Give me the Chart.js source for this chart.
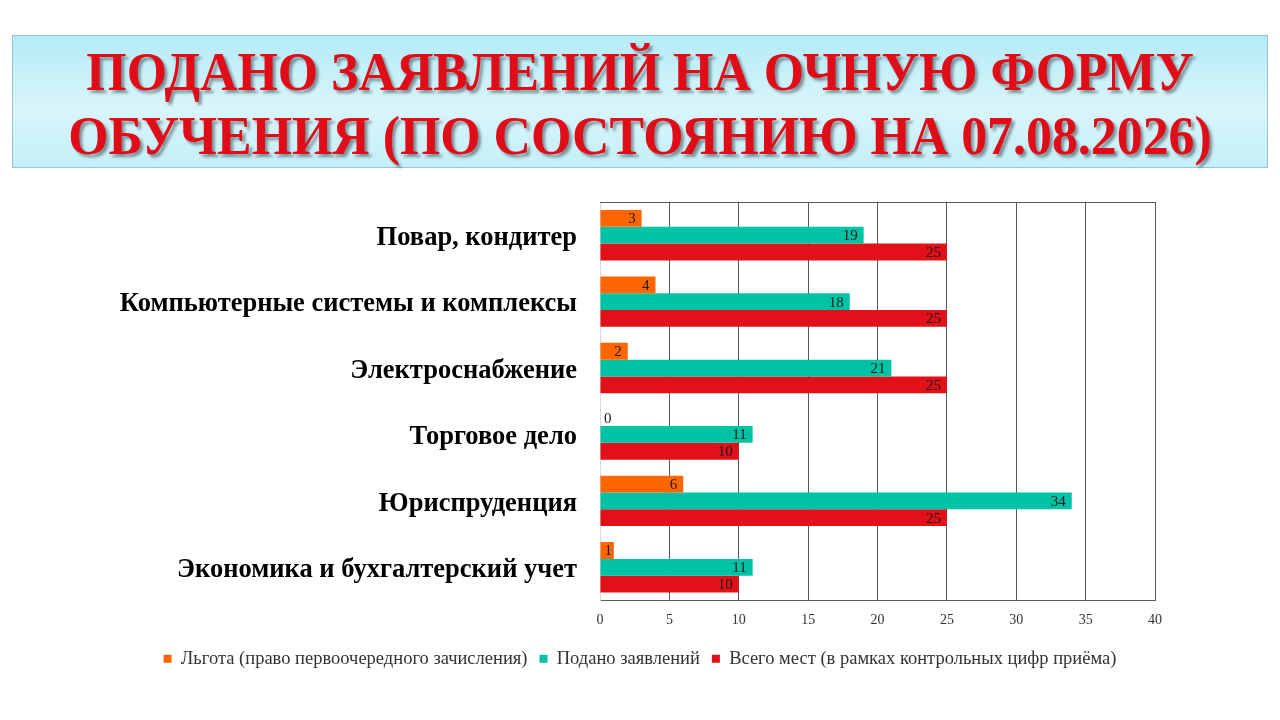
<!DOCTYPE html>
<html>
<head>
<meta charset="utf-8">
<script src="https://cdn.jsdelivr.net/npm/chart.js@4.4.1/dist/chart.umd.min.js"></script>
<style>
  html, body { margin:0; padding:0; background:#fff; width:1280px; height:720px; overflow:hidden; }
  #titleBox {
    position:absolute; left:12px; top:35px; width:1256px; height:133px; box-sizing:border-box;
    border:1px solid #9cc3d5;
    background: linear-gradient(to bottom, #b4ebf7 0%, #d9f5fb 55%, #c4eff9 100%);
    padding-top:4px;
  }
  .tl { position:relative; height:64px; line-height:64px; white-space:nowrap; }
  .tl span {
    position:absolute; left:50%; top:0;
    font-family:"Liberation Serif","Times New Roman",serif; font-weight:bold;
    font-size:54px; color:#e00c17; text-shadow:3px 3px 3px rgba(0,0,0,0.4);
    transform:translateX(-50%) scaleX(0.96);
  }
  #wrap { position:absolute; left:0; top:180px; width:1280px; height:500px; }
</style>
</head>
<body>
<div id="titleBox">
  <div class="tl"><span>ПОДАНО ЗАЯВЛЕНИЙ НА ОЧНУЮ ФОРМУ</span></div>
  <div class="tl"><span>ОБУЧЕНИЯ (ПО СОСТОЯНИЮ НА 07.08.2026)</span></div>
</div>
<div id="wrap"><canvas id="c" width="1280" height="500"></canvas></div>
<script>
const categories = [
  "Повар, кондитер",
  "Компьютерные системы и комплексы",
  "Электроснабжение",
  "Торговое дело",
  "Юриспруденция",
  "Экономика и бухгалтерский учет"
];
const seriesNames = [
  "Льгота (право первоочередного зачисления)",
  "Подано заявлений",
  "Всего мест (в рамках контрольных цифр приёма)"
];
const lgota  = [3, 4, 2, 0, 6, 1];
const podano = [19, 18, 21, 11, 34, 11];
const vsego  = [25, 25, 25, 10, 25, 10];
const colors = ["#ff6600", "#00c3a5", "#e21019"];
const xMin = 0, xMax = 40, xStep = 5;

const serif = "'Liberation Serif','Times New Roman',serif";

const labelsPlugin = {
  id: 'barLabels',
  afterDatasetsDraw(chart) {
    const ctx = chart.ctx;
    ctx.save();
    ctx.font = "15px " + serif;
    ctx.fillStyle = "#1a1a1a";
    ctx.textAlign = "right";
    ctx.textBaseline = "middle";
    chart.data.datasets.forEach((ds, di) => {
      const meta = chart.getDatasetMeta(di);
      meta.data.forEach((el, i) => {
        const txt = String(ds.data[i]);
        const w = ctx.measureText(txt).width;
        const x = Math.max(el.x - 6, el.base + w + 4);
        ctx.fillText(txt, x, el.y + 1);
      });
    });
    ctx.restore();
  }
};
const topBorder = {
  id: 'topBorder',
  afterDraw(chart) {
    const a = chart.chartArea, ctx = chart.ctx;
    ctx.save();
    ctx.strokeStyle = "#595959";
    ctx.lineWidth = 1;
    ctx.beginPath();
    ctx.moveTo(a.left, Math.round(a.top) + 0.5);
    ctx.lineTo(a.right, Math.round(a.top) + 0.5);
    ctx.stroke();
    ctx.restore();
  }
};

function noPad(s) { s.paddingTop = 0; s.paddingBottom = 0; s.paddingLeft = 0; s.paddingRight = 0; }

new Chart(document.getElementById('c'), {
  type: 'bar',
  data: {
    labels: categories,
    datasets: [
      { label: seriesNames[0], data: lgota,  backgroundColor: colors[0] },
      { label: seriesNames[1], data: podano, backgroundColor: colors[1] },
      { label: seriesNames[2], data: vsego,  backgroundColor: colors[2] }
    ]
  },
  options: {
    indexAxis: 'y',
    responsive: false,
    animation: false,
    datasets: { bar: { barPercentage: 1, categoryPercentage: 0.76 } },
    layout: { padding: { top: 22, bottom: 2, left: 0, right: 0 } },
    scales: {
      x: {
        min: xMin, max: xMax,
        ticks: { stepSize: xStep, font: { family: serif, size: 14 }, color: "#333", padding: 11 },
        grid: { drawTicks: false, color: c => (c.tick && c.tick.value === 0) ? 'rgba(0,0,0,0)' : '#595959' },
        border: { color: '#595959' },
        afterFit(s) { s.height = 37; noPad(s); }
      },
      y: {
        ticks: { font: { family: serif, size: 26.5, weight: 'bold' }, color: "#000", padding: 23, labelOffset: 3 },
        grid: { display: false, drawTicks: false },
        border: { color: '#d9d9d9' },
        afterFit(s) { s.width = 600; noPad(s); }
      },
      r: {
        type: 'linear', axis: 'y', position: 'right', display: true,
        ticks: { display: false }, grid: { display: false, drawTicks: false }, border: { display: false },
        afterFit(s) { s.width = 125; noPad(s); }
      }
    },
    plugins: {
      legend: {
        position: 'bottom',
        labels: { boxWidth: 8, boxHeight: 8, font: { family: serif, size: 18.5 }, color: '#333', padding: 12 }
      },
      tooltip: { enabled: false }
    }
  },
  plugins: [labelsPlugin, topBorder]
});
</script>
</body>
</html>
